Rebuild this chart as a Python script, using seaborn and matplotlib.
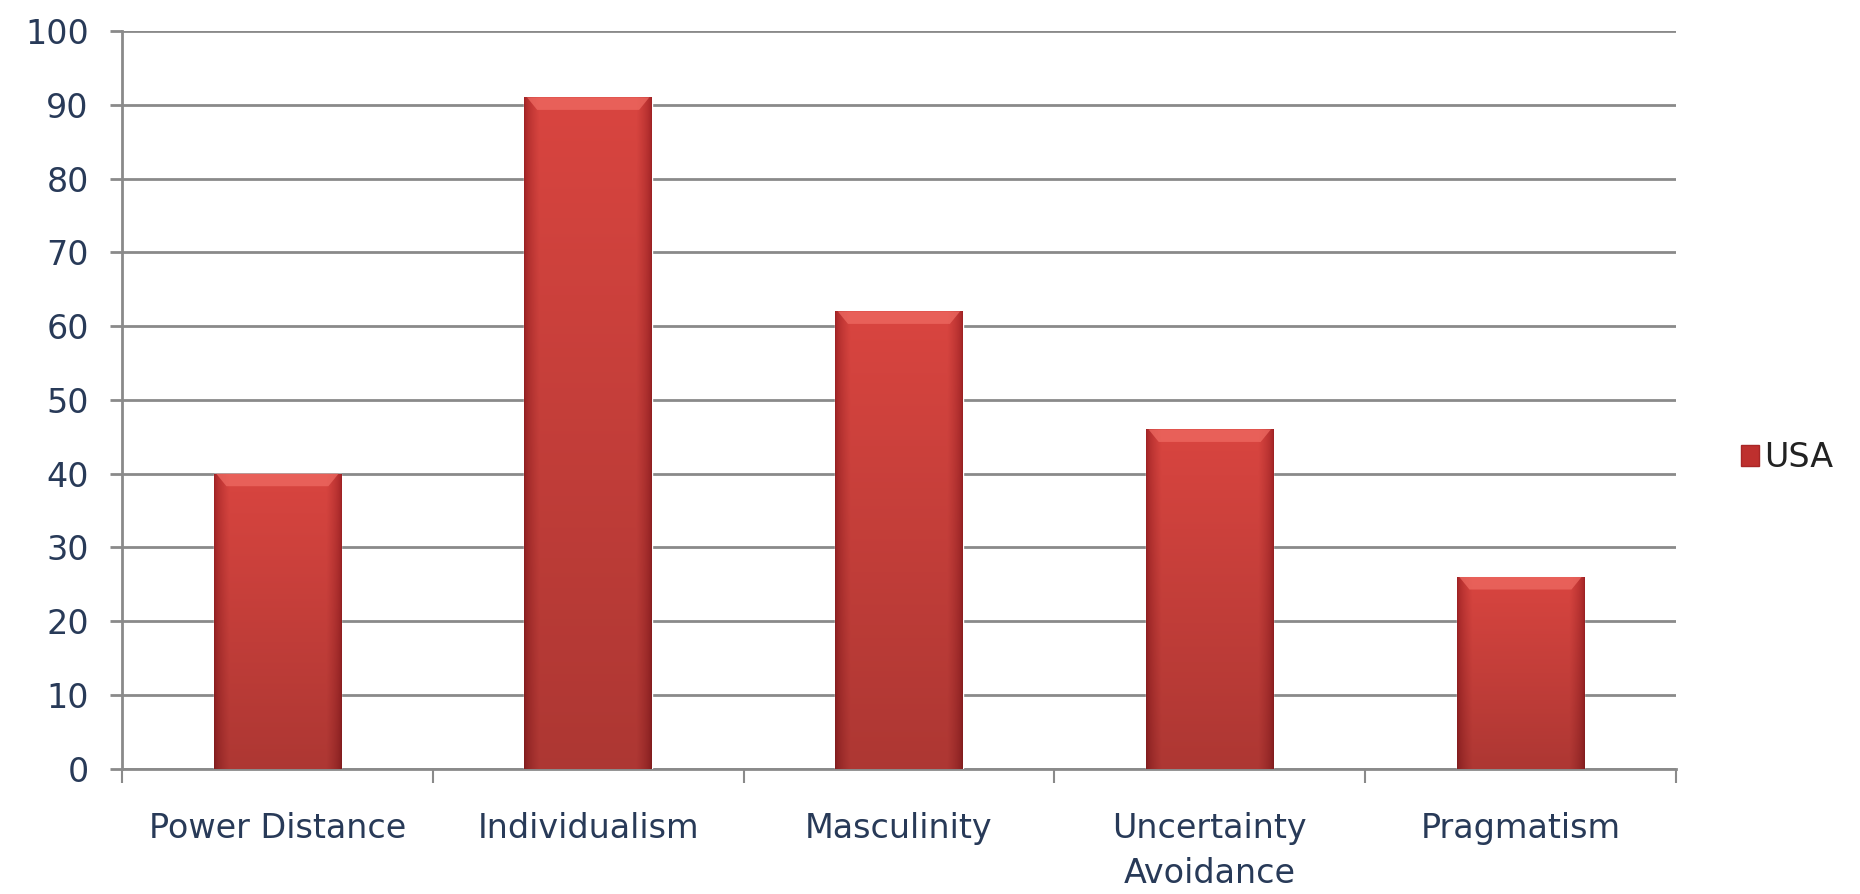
import matplotlib
matplotlib.use("Agg")
import matplotlib.pyplot as plt
import numpy as np
import pandas as pd
import seaborn as sns
from matplotlib.patches import Patch

categories = ["Power Distance", "Individualism", "Masculinity", "Uncertainty\nAvoidance", "Pragmatism"]
usa_scores = [40, 91, 62, 46, 26]
y_ticks = [0, 10, 20, 30, 40, 50, 60, 70, 80, 90, 100]
series_name = "USA"

sns.set_style("white")
plt.rcParams['font.family'] = ['DejaVu Sans']

df = pd.DataFrame({"dimension": categories, "score": usa_scores})

fig = plt.figure(figsize=(18.6, 8.94), dpi=100)
ax = fig.add_axes([0.0656, 0.140, 0.8354, 0.8254])

sns.barplot(data=df, x="dimension", y="score", color="#CC3A36", width=0.41,
            saturation=1, ax=ax, zorder=3)

# shaded look for each bar (image clipped to the bar patch)
xs = np.linspace(0, 1, 200)
edge = np.clip(np.minimum(xs, 1 - xs) / 0.12, 0, 1) ** 0.6
center = np.array([0.85, 0.27, 0.25])
dark = np.array([0.62, 0.13, 0.14])
for p in ax.patches:
    x0, y0 = p.get_x(), p.get_y()
    w, h = p.get_width(), p.get_height()
    ny = 200
    ys = np.linspace(0, 1, ny)[:, None]          # 0 bottom -> 1 top
    vert = 0.80 + 0.20 * ys                       # darker toward bottom
    img = (dark[None, None, :] + (center - dark)[None, None, :] * edge[None, :, None])
    img = img * vert[:, :, None]
    img = np.clip(img, 0, 1)
    im = ax.imshow(img, extent=[x0, x0 + w, y0, y0 + h], aspect="auto",
                   zorder=4, origin="lower", interpolation="bilinear")
    im.set_clip_path(p)
    # light bevel on top
    ax.fill([x0 + w * 0.02, x0 + w * 0.98, x0 + w * 0.90, x0 + w * 0.10],
            [y0 + h, y0 + h, y0 + h - 1.7, y0 + h - 1.7],
            color="#EE6A62", alpha=0.75, zorder=5, linewidth=0)

ax.set_xlim(-0.5, len(categories) - 0.5)
ax.set_ylim(0, 100)
ax.set_yticks(y_ticks)
ax.set_yticklabels([str(v) for v in y_ticks])
ax.yaxis.grid(True, color="#8A8A8A", linewidth=2.0, zorder=0)
ax.set_axisbelow(True)

ax.set_xlabel("")
ax.set_ylabel("")

for s in ["top", "right"]:
    ax.spines[s].set_visible(False)
for s in ["left", "bottom"]:
    ax.spines[s].set_color("#8A8A8A")
    ax.spines[s].set_linewidth(2.0)

label_color = "#283A58"
ax.set_xticks(np.arange(-0.5, len(categories), 1.0), minor=True)
ax.tick_params(axis="x", which="minor", length=10, width=1.5, color="#8A8A8A", bottom=True)
ax.tick_params(axis="x", which="major", length=0, pad=31, labelsize=24, labelcolor=label_color)
ax.tick_params(axis="y", which="major", length=9, width=2, color="#8A8A8A", left=True,
               pad=15, labelsize=24, labelcolor=label_color)
for t in ax.get_xticklabels():
    t.set_linespacing(1.45)

leg_handle = Patch(facecolor="#BE302E", edgecolor="#A82626")
fig.legend([leg_handle], [series_name], loc="center left",
           bbox_to_anchor=(1741 / 1860, 1 - 458 / 894), frameon=False,
           fontsize=24, handlelength=0.55, handleheight=0.6, handletextpad=0.15,
           borderpad=0, borderaxespad=0, labelcolor="#222222")

fig.savefig("out.png", dpi=100)
